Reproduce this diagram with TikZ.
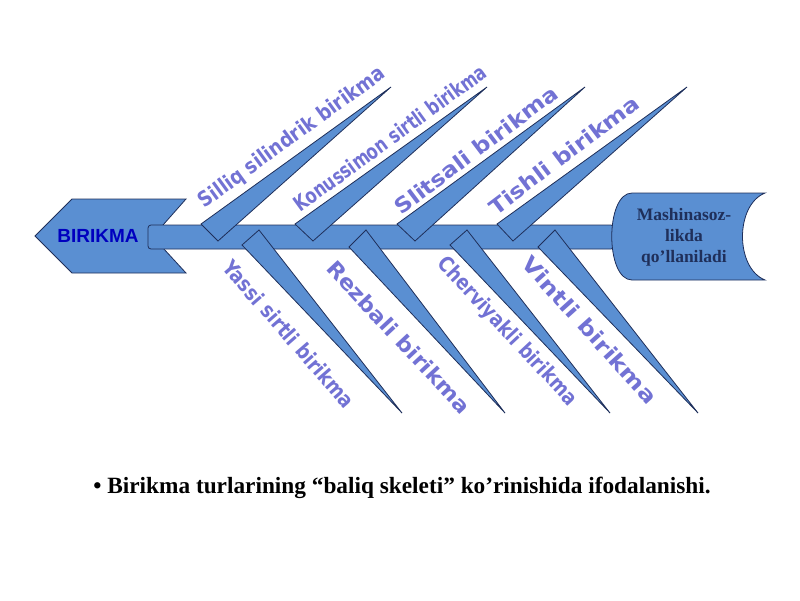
\documentclass[tikz,border=0pt]{standalone}
\usepackage{fontspec}
\setmainfont{Liberation Serif}
\newfontfamily\lblfont{DejaVu Sans Condensed}
\newfontfamily\hfont{Liberation Sans}
\newcommand{\fitw}[2]{\resizebox{#1pt}{16pt}{\lblfont\bfseries #2}}
\begin{document}
\begin{tikzpicture}[x=1pt,y=-1pt,
  bone/.style={fill=boneblue,draw=navy,line width=0.8pt,line join=miter},
  lbl/.style={text=lav,inner sep=0pt}]
\definecolor{boneblue}{HTML}{5A8FD2}
\definecolor{navy}{HTML}{1F2F5A}
\definecolor{lav}{HTML}{7272D4}
\useasboundingbox (0,0) rectangle (800,600);
% head
\draw[bone] (35,236) -- (72,199) -- (186,199) -- (163,225) -- (163,248) -- (186,273) -- (72,273) -- cycle;
% spine
\draw[bone,rounded corners=3pt] (148,225) rectangle (614,249);
% tail
\draw[bone] (632,193) -- (765,193) .. controls (735,205) and (735,268) .. (765,280) -- (632,280) .. controls (605,280) and (605,193) .. (632,193) -- cycle;
\node[font=\bfseries\fontsize{17.5}{21}\selectfont,text=navy,align=center] (tail) at (684,237) {Mashinasoz-\\likda\\qo’llaniladi};
\node[font=\hfont\bfseries\fontsize{19}{19}\selectfont,text=blue!75!black] (head) at (98,236) {BIRIKMA};
% upper bones
\draw[bone] (201,224) -- (391,87) -- (218,241) -- cycle;
\draw[bone] (295,224) -- (487,87) -- (313,241) -- cycle;
\draw[bone] (397,224) -- (585,87) -- (415,241) -- cycle;
\draw[bone] (497,224) -- (687,87) -- (513,241) -- cycle;
% lower bones
\draw[bone] (242,245) -- (259,230) -- (402,413) -- cycle;
\draw[bone] (349,247) -- (366,230) -- (505,413) -- cycle;
\draw[bone] (450,245) -- (467,230) -- (610,413) -- cycle;
\draw[bone] (538,247) -- (555,230) -- (698,413) -- cycle;
% labels
\node[lbl,rotate=36] (u1) at (292,138) {\fitw{225}{Silliq silindrik birikma}};
\node[lbl,rotate=36] (u2) at (390,138) {\fitw{232}{Konussimon sirtli birikma}};
\node[lbl,rotate=37] (u3) at (476,150) {\fitw{198}{Slitsali birikma}};
\node[lbl,rotate=37] (u4) at (564,155) {\fitw{182}{Tishli birikma}};
\node[lbl,rotate=-49] (d1) at (289,334) {\fitw{188}{Yassi sirtli birikma}};
\node[lbl,rotate=-47] (d2) at (399,337) {\fitw{200}{Rezbali birikma}};
\node[lbl,rotate=-47] (d3) at (507,332) {\fitw{194}{Cherviyakli birikma}};
\node[lbl,rotate=-48] (d4) at (590,330) {\fitw{190}{Vintli birikma}};
% caption
\node[font=\bfseries\fontsize{23.3}{27}\selectfont] (cap) at (402,488) {• Birikma turlarining “baliq skeleti” ko’rinishida ifodalanishi.};
\end{tikzpicture}
\end{document}
